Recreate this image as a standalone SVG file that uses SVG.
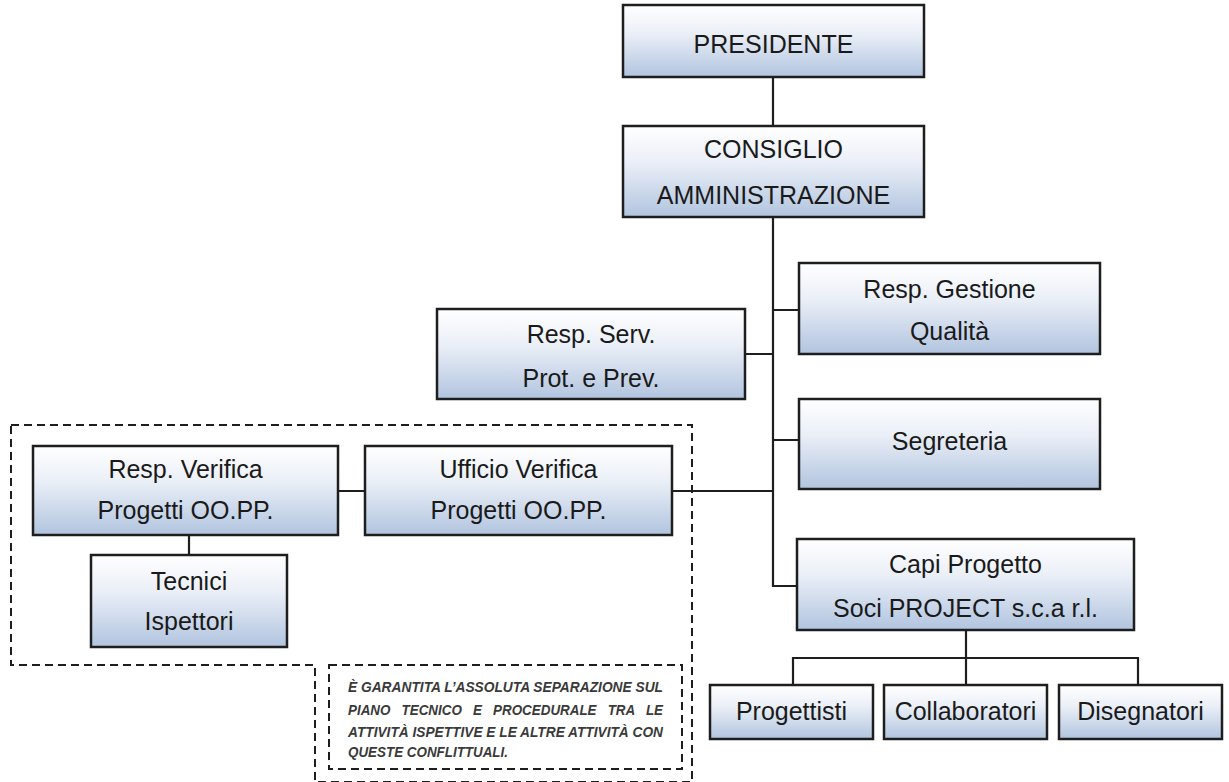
<svg xmlns="http://www.w3.org/2000/svg" width="1229" height="782" viewBox="0 0 1229 782">
<defs>
<linearGradient id="g" x1="0" y1="0" x2="0" y2="1">
<stop offset="0" stop-color="#ffffff"/>
<stop offset="0.4" stop-color="#eaeff7"/>
<stop offset="1" stop-color="#b1c4df"/>
</linearGradient>
</defs>
<style>
.box{fill:url(#g);stroke:#1e1e1e;stroke-width:2.5}
.t{font-family:"Liberation Sans",Arial,sans-serif;font-size:25px;fill:#1a1a1a;text-anchor:middle}
.c{fill:none;stroke:#1e1e1e;stroke-width:2.2}
.d{fill:none;stroke:#1e1e1e;stroke-width:2;stroke-dasharray:8 5}
.n{font-family:"Liberation Sans",Arial,sans-serif;font-size:14.5px;font-style:italic;font-weight:bold;fill:#3a3a3a}
</style>
<rect width="1229" height="782" fill="#ffffff"/>
<g id="connectors">
<path class="c" d="M773 77V126M773 217V586H797M745 354H773M773 310H799M773 440H799M672 491H773M338 491H365M189 535V555M966 630V658M793 685V658H1138V685M966 658V685"/>
</g>
<g id="dashed-region">
<path class="d" d="M11 425H692V782H315V665H11Z"/>
</g>
<g id="presidente"><rect class="box" x="623" y="5" width="301" height="72"/><text class="t" x="773.5" y="53">PRESIDENTE</text></g>
<g id="consiglio"><rect class="box" x="623" y="126" width="301" height="91"/><text class="t" x="773.5" y="158">CONSIGLIO</text><text class="t" x="773.5" y="204">AMMINISTRAZIONE</text></g>
<g id="resp-gestione"><rect class="box" x="799" y="263" width="301" height="91"/><text class="t" x="949.5" y="298">Resp. Gestione</text><text class="t" x="949.5" y="340">Qualità</text></g>
<g id="resp-serv"><rect class="box" x="437" y="309" width="308" height="90"/><text class="t" x="591" y="343">Resp. Serv.</text><text class="t" x="591" y="387">Prot. e Prev.</text></g>
<g id="segreteria"><rect class="box" x="799" y="399" width="301" height="90"/><text class="t" x="949.5" y="450">Segreteria</text></g>
<g id="resp-verifica"><rect class="box" x="33" y="446" width="305" height="89"/><text class="t" x="185.5" y="478">Resp. Verifica</text><text class="t" x="185.5" y="519">Progetti OO.PP.</text></g>
<g id="ufficio-verifica"><rect class="box" x="365" y="446" width="307" height="89"/><text class="t" x="518.5" y="478">Ufficio Verifica</text><text class="t" x="518.5" y="519">Progetti OO.PP.</text></g>
<g id="tecnici"><rect class="box" x="91" y="555" width="196" height="92"/><text class="t" x="189" y="590">Tecnici</text><text class="t" x="189" y="630">Ispettori</text></g>
<g id="capi-progetto"><rect class="box" x="797" y="539" width="337" height="91"/><text class="t" x="965.5" y="573">Capi Progetto</text><text class="t" x="965.5" y="617">Soci PROJECT s.c.a r.l.</text></g>
<g id="progettisti"><rect class="box" x="710" y="685" width="163" height="54"/><text class="t" x="791.5" y="720">Progettisti</text></g>
<g id="collaboratori"><rect class="box" x="884" y="685" width="163" height="54"/><text class="t" x="965.5" y="720">Collaboratori</text></g>
<g id="disegnatori"><rect class="box" x="1059" y="685" width="163" height="54"/><text class="t" x="1140.5" y="720">Disegnatori</text></g>
<g id="note">
<rect class="d" x="329" y="665" width="353" height="104"/>
<text class="n" x="348" y="692" textLength="315" lengthAdjust="spacingAndGlyphs">È GARANTITA L’ASSOLUTA SEPARAZIONE SUL</text>
<text class="n" x="348" y="715" textLength="315" lengthAdjust="spacingAndGlyphs" xml:space="preserve">PIANO   TECNICO   E   PROCEDURALE   TRA   LE</text>
<text class="n" x="348" y="737" textLength="315" lengthAdjust="spacingAndGlyphs">ATTIVITÀ ISPETTIVE E LE ALTRE ATTIVITÀ CON</text>
<text class="n" x="348" y="757" textLength="160" lengthAdjust="spacingAndGlyphs">QUESTE CONFLITTUALI.</text>
</g>
</svg>
